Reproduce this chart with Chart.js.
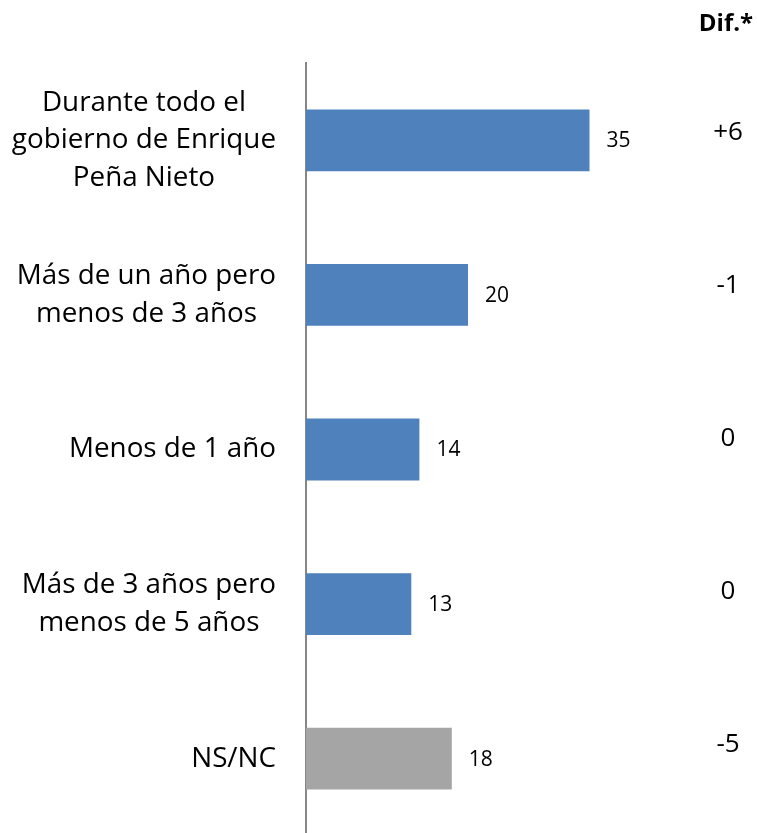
<!DOCTYPE html>
<html>
<head>
<meta charset="utf-8">
<script src="https://cdn.jsdelivr.net/npm/chart.js@4/dist/chart.umd.min.js"></script>
<style>
  html, body { margin: 0; padding: 0; overflow: hidden; background: #fff; }
  #wrap { position: relative; width: 757px; height: 836px; }
</style>
</head>
<body>
<div id="wrap"><canvas id="c"></canvas></div>
<script>
const categories = [
  ["Durante todo el", "gobierno de Enrique", "Peña Nieto"],
  ["Más de un año pero", "menos de 3 años"],
  ["Menos de 1 año"],
  ["Más de 3 años pero", "menos de 5 años"],
  ["NS/NC"]
];
const values = [35, 20, 14, 13, 18];
const difLabels = ["+6", "-1", "0", "0", "-5"];
const difHeader = "Dif.*";
const barColors = ["#4F81BD", "#4F81BD", "#4F81BD", "#4F81BD", "#A5A5A5"];

const FONT = "'Open Sans', Lato, sans-serif";

const labelPlugin = {
  id: 'labels',
  afterDatasetsDraw(chart) {
    const ctx = chart.ctx;
    const y = chart.scales.y;
    const meta = chart.getDatasetMeta(0);
    ctx.save();
    ctx.fillStyle = '#000';
    // category labels
    ctx.font = "27.8px " + FONT;
    ctx.textBaseline = 'middle';
    ctx.textAlign = 'center';
    const lineH = 37.5;
    categories.forEach((lines, i) => {
      const cy = y.getPixelForValue(i);
      const maxW = Math.max(...lines.map(l => ctx.measureText(l).width));
      const cx = chart.chartArea.left - 30 - maxW / 2;
      const startY = cy - (lines.length - 1) * lineH / 2;
      lines.forEach((l, k) => ctx.fillText(l, cx, startY + k * lineH));
    });
    // value labels
    ctx.font = "21px " + FONT;
    ctx.textAlign = 'left';
    meta.data.forEach((bar, i) => {
      ctx.fillText(String(values[i]), bar.x + 17, bar.y + 1);
    });
    // dif column
    ctx.font = "26px " + FONT;
    ctx.textAlign = 'center';
    difLabels.forEach((d, i) => {
      const cy = y.getPixelForValue(i);
      ctx.fillText(d, 728, cy - 8 - i * 1.5);
    });
    ctx.font = "bold 24px " + FONT;
    ctx.fillText(difHeader, 726, 24);
    ctx.restore();
  }
};

new Chart(document.getElementById('c'), {
  type: 'bar',
  data: {
    labels: categories,
    datasets: [{
      data: values,
      backgroundColor: barColors,
      borderWidth: 0,
      barPercentage: 0.4,
      categoryPercentage: 1.0
    }]
  },
  options: {
    indexAxis: 'y',
    responsive: true,
    maintainAspectRatio: false,
    animation: false,
    events: [],
    layout: { padding: { left: 306, right: 127, top: 63, bottom: 0 } },
    plugins: { legend: { display: false }, tooltip: { enabled: false } },
    scales: {
      x: { display: false, min: 0, max: 40 },
      y: {
        display: true,
        ticks: { display: false },
        grid: { display: false, drawTicks: false },
        border: { display: true, color: '#868686', width: 2 }
      }
    }
  },
  plugins: [labelPlugin]
});
</script>
</body>
</html>
